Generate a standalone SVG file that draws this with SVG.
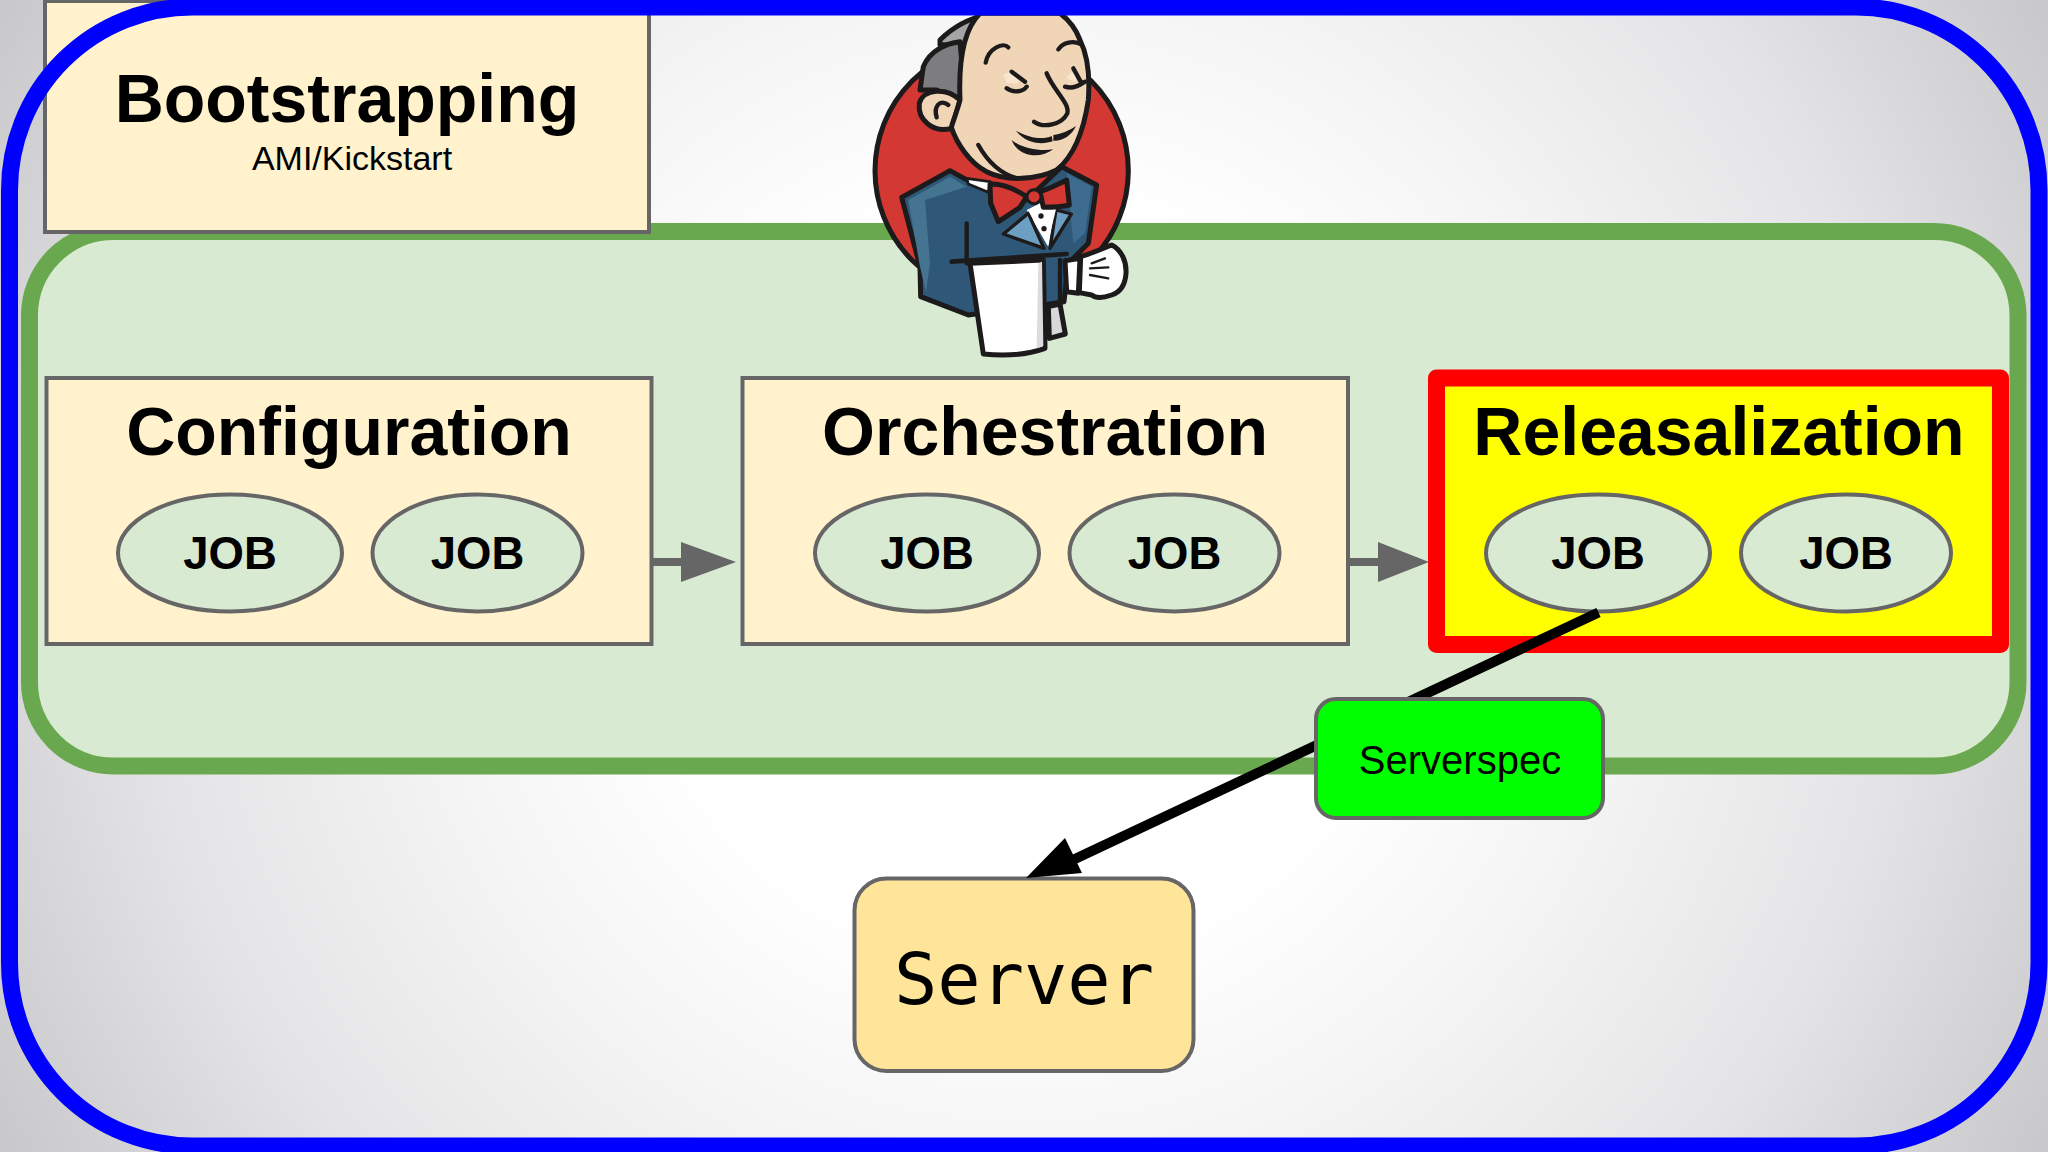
<svg xmlns="http://www.w3.org/2000/svg" width="2048" height="1152" viewBox="0 0 2048 1152">
<style>
.box{fill:#fff2cc;stroke:#666;stroke-width:4}
.job{fill:#d9ead3;stroke:#666;stroke-width:4}
.sans{font-family:"Liberation Sans",Arial,sans-serif;text-anchor:middle;fill:#000}
.title{font-size:68px;font-weight:bold}
.jt{font-size:45.5px;font-weight:bold}
.o{stroke:#1c1a1b;stroke-width:15;stroke-linejoin:round;stroke-linecap:round}
.l{fill:none;stroke:#1c1a1b;stroke-width:13;stroke-linecap:round;stroke-linejoin:round}
</style>
<defs>
<radialGradient id="bg" gradientUnits="userSpaceOnUse" cx="1024" cy="576" r="1175">
<stop offset="0" stop-color="#fff"/><stop offset=".32" stop-color="#fff"/><stop offset=".5" stop-color="#f5f5f6"/><stop offset=".75" stop-color="#e4e4e6"/><stop offset="1" stop-color="#c8c8ca"/>
</radialGradient>
</defs>
<rect width="2048" height="1152" fill="url(#bg)"/>
<g id="pipeline"><rect x="29.5" y="231.5" width="1988.5" height="534.5" rx="84" fill="#d9ead3" stroke="#6aa84f" stroke-width="17"/></g>
<g id="bootstrapping">
<rect class="box" x="45" y="1" width="604" height="231"/>
<text class="sans title" x="347" y="122">Bootstrapping</text>
<text class="sans" x="352" y="170" font-size="34">AMI/Kickstart</text>
</g>
<g id="jenkins" transform="translate(840 0) scale(.33333)">
<circle class="o" cx="485" cy="512" r="380" fill="#d33833"/>
<path class="o" d="M185 592L330 512L390 545L560 600L665 500L770 555L745 730L685 790L672 905L610 915L385 945L242 890L240 800Z" fill="#2f5878"/>
<path d="M205 600L330 530L380 560L255 600L270 790L258 875L240 800Z" fill="#44748f"/>
<path d="M680 520L755 560L735 700L700 730Z" fill="#3d6c8e"/>
<path class="l" d="M380 670V790M660 780V900"/>
<path d="M380 535L450 545L445 577L385 552Z" fill="#fff" stroke="#1c1a1b" stroke-width="8"/>
<path d="M560 630L600 610L650 625L625 740Z" fill="#fff"/>
<path class="l" d="M490 702L565 640L612 745Z" style="fill:#6d9fc2;stroke-width:10"/>
<path class="l" d="M648 630L694 642L630 745Z" style="fill:#6d9fc2;stroke-width:10"/>
<path d="M565 632L600 612L648 628L622 735Z" fill="#fff"/>
<circle cx="603" cy="648" r="8" fill="#1c1a1b"/><circle cx="612" cy="686" r="8" fill="#1c1a1b"/>
<path class="o" d="M300 120C340 80 390 55 440 44L420 130L300 135Z" fill="#a5a5a5"/>
<path class="o" d="M250 200C270 150 320 130 360 125L375 290L350 305L290 270L240 270Z" fill="#7d7d7f"/>
<path class="o" d="M360 300C320 262 250 265 238 310C232 360 280 400 335 385Z" fill="#f0d6b7"/>
<path class="o" d="M420 40C370 90 355 180 360 300C350 340 330 385 335 385C350 430 390 490 440 515C500 545 590 540 650 510C700 470 730 400 745 300C750 230 745 170 720 120C705 80 680 55 660 40Z" fill="#f0d6b7"/>
<path d="M490 225C520 205 540 225 535 250L500 250ZM680 235C690 215 710 205 715 225L705 245Z" fill="#f8e6cf"/>
<path class="l" d="M290 352C280 320 300 295 325 315"/>
<path class="l" d="M437 188C445 145 490 125 505 142"/>
<path class="l" d="M655 148C670 125 700 122 722 132"/>
<path class="l" d="M500 265C520 280 550 275 560 260M515 215L555 245"/>
<path class="l" d="M675 260C700 268 720 255 735 245M700 205L722 245"/>
<path class="l" d="M620 220C640 270 690 310 682 340C665 375 610 385 582 365"/>
<path d="M528 392C570 415 610 420 635 408L638 424C600 437 555 427 528 392ZM640 405C665 402 690 390 708 378C695 408 665 424 640 422Z" fill="#1c1a1b"/>
<path d="M515 420C545 445 600 455 640 448C600 478 535 472 515 420Z" fill="#1c1a1b"/>
<path class="l" d="M415 435C440 480 480 520 530 535"/>
<path class="o" d="M450 552C490 550 530 570 560 590L540 622L475 665L452 610Z" fill="#d33833"/>
<path class="o" d="M600 575C630 565 655 552 680 540L688 615C660 622 630 622 610 622Z" fill="#d33833"/>
<circle cx="582" cy="590" r="21" fill="#d33833" stroke="#1c1a1b" stroke-width="9"/>
<path class="l" d="M335 785L680 762" style="stroke-width:14"/>
<path class="o" d="M625 920L660 912L676 1002L628 1015Z" fill="#d8d8da"/>
<path class="o" d="M390 790L610 780L615 1045C560 1065 490 1068 430 1062Z" fill="#fff"/>
<path d="M595 790L606 785L610 1038L590 1045Z" fill="#dcdce0"/>
<path class="o" d="M675 782L720 775L715 880L680 875Z" fill="#fff"/>
<path class="o" d="M722 770C755 760 790 745 815 735C845 750 860 785 858 820C856 850 845 875 815 885C795 892 770 897 755 885L718 878Z" fill="#fff"/>
<path class="l" d="M755 790L795 775M750 805L805 802M750 825L805 835" style="stroke-width:7"/>
</g>
<g id="configuration">
<rect class="box" x="46.5" y="378" width="605" height="266"/>
<text class="sans title" x="349" y="455">Configuration</text>
<ellipse class="job" cx="230" cy="553" rx="112" ry="58.5"/><text class="sans jt" x="230" y="569">JOB</text>
<ellipse class="job" cx="477.5" cy="553" rx="105" ry="58.5"/><text class="sans jt" x="477.5" y="569">JOB</text>
</g>
<g id="orchestration">
<rect class="box" x="742.5" y="378" width="605.5" height="266"/>
<text class="sans title" x="1045" y="455">Orchestration</text>
<ellipse class="job" cx="927" cy="553" rx="112" ry="58.5"/><text class="sans jt" x="927" y="569">JOB</text>
<ellipse class="job" cx="1174.5" cy="553" rx="105" ry="58.5"/><text class="sans jt" x="1174.5" y="569">JOB</text>
</g>
<g id="releasalization">
<rect x="1436.5" y="378" width="564" height="266.5" fill="#ff0" stroke="#f00" stroke-width="17" stroke-linejoin="round"/>
<text class="sans title" x="1719" y="455">Releasalization</text>
<ellipse class="job" cx="1598" cy="553" rx="112" ry="58.5"/><text class="sans jt" x="1598" y="569">JOB</text>
<ellipse class="job" cx="1846" cy="553" rx="105" ry="58.5"/><text class="sans jt" x="1846" y="569">JOB</text>
</g>
<g id="server">
<rect x="854.5" y="878.5" width="339" height="192.5" rx="32" fill="#ffe599" stroke="#666" stroke-width="4"/>
<text x="1024" y="1004" font-family="'DejaVu Sans Mono',monospace" font-size="72" text-anchor="middle" fill="#000">Server</text>
</g>
<g id="connectors">
<path d="M652 562H684" stroke="#666" stroke-width="8" fill="none"/>
<path d="M681 542L736 562L681 582Z" fill="#666"/>
<path d="M1348 562H1380" stroke="#666" stroke-width="8" fill="none"/>
<path d="M1378 542L1429 562L1378 582Z" fill="#666"/>
<path d="M1598.5 612.5L1060 866" stroke="#000" stroke-width="10" fill="none"/>
<path d="M1026 878L1065 838L1082 873Z" fill="#000"/>
</g>
<g id="serverspec">
<rect x="1316" y="699" width="287" height="119" rx="20" fill="#0f0" stroke="#666" stroke-width="4"/>
<text class="sans" x="1460" y="774" font-size="40">Serverspec</text>
</g>
<g id="frame"><rect x="9.5" y="7" width="2029.5" height="1139" rx="183" fill="none" stroke="#00f" stroke-width="17"/></g>
</svg>
